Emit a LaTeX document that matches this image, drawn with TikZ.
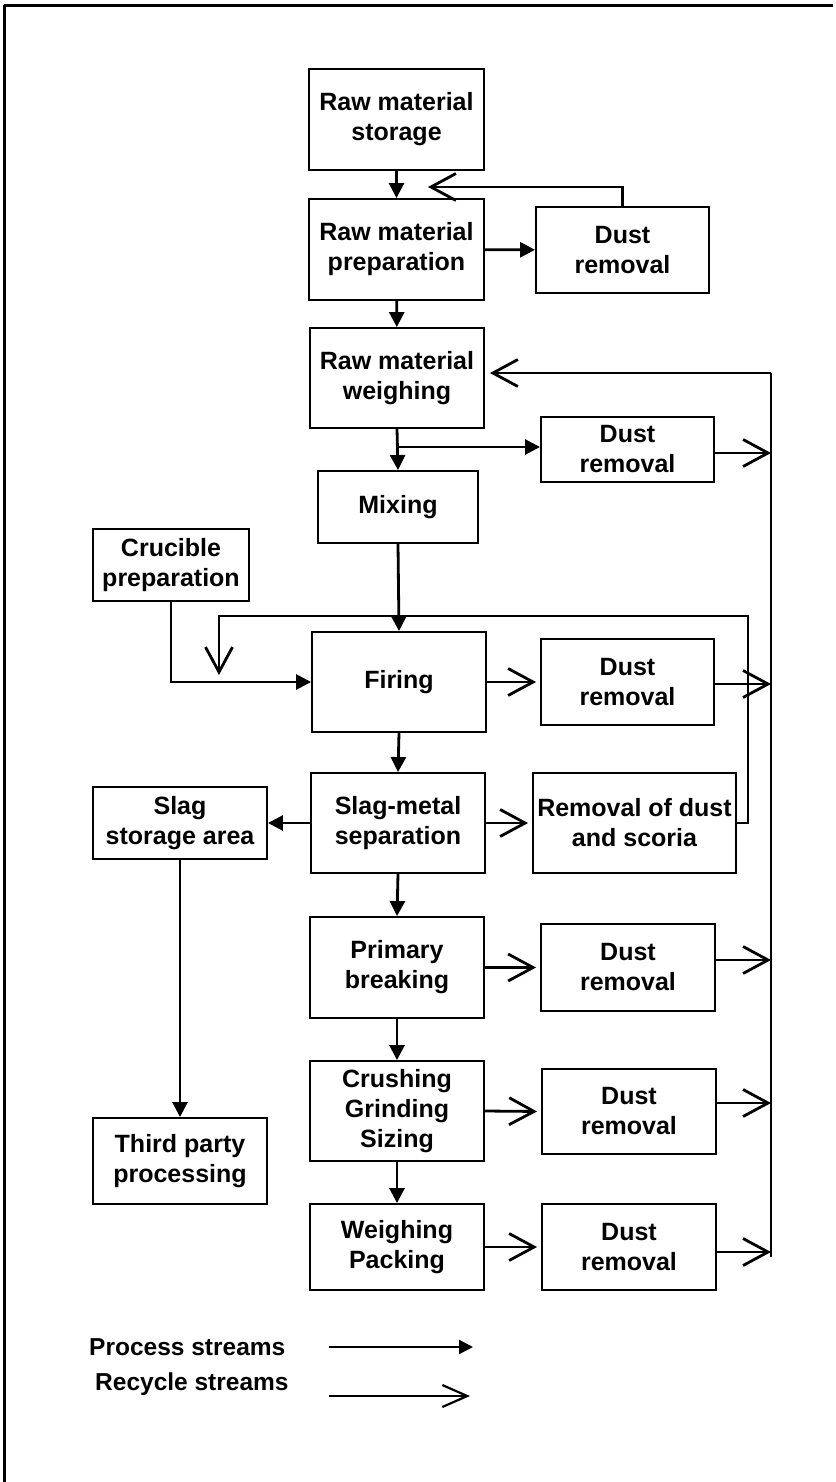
\documentclass[tikz,border=0pt]{standalone}
\usepackage{fontspec}
\setmainfont{Liberation Sans}
\usetikzlibrary{arrows.meta}
\begin{document}
\begin{tikzpicture}[x=1pt,y=-1pt,
  box/.style={draw, line width=1.9pt, inner sep=0pt, align=center,
    font=\fontsize{25}{30}\selectfont\bfseries},
  lbl/.style={inner sep=0pt, anchor=west, font=\fontsize{24.5}{29}\selectfont\bfseries},
  proc/.style={line width=2.8pt, -{Triangle[length=15pt,width=15pt]}},
  recy/.style={line width=2.8pt, -{Straight Barb[length=25pt,width=27pt]}},
  plain/.style={line width=2.8pt},
  legproc/.style={line width=2.2pt, -{Triangle[length=14pt,width=14pt]}},
  legrecy/.style={line width=2.2pt, -{Straight Barb[length=25pt,width=22pt]}}]
\useasboundingbox (0,0) rectangle (835,1482);
\draw[line width=2.2pt] (4.5,1482) -- (4.5,5.5);
\draw[line width=3pt] (3.5,5.5) -- (833,5.5);

% boxes
\node[box, minimum width=175pt, minimum height=101pt] (storage) at (396.5,119.5) {Raw material\\storage};
\node[box, minimum width=175pt, minimum height=101pt] (prep) at (396.5,249.5) {Raw material\\preparation};
\node[box, minimum width=173pt, minimum height=86pt] (dustA) at (622.5,250) {Dust\\removal};
\node[box, minimum width=174pt, minimum height=100pt] (weigh) at (397,378) {Raw material\\weighing};
\node[box, minimum width=173pt, minimum height=65pt] (dustB) at (627.5,449.5) {Dust\\removal};
\node[box, minimum width=160pt, minimum height=72pt] (mixing) at (398,507) {Mixing};
\node[box, minimum width=156pt, minimum height=72pt] (crucible) at (171,565) {Crucible\\preparation};
\node[box, minimum width=174pt, minimum height=100pt] (firing) at (399,682) {Firing};
\node[box, minimum width=173pt, minimum height=86pt] (dustF) at (627.5,682) {Dust\\removal};
\node[box, minimum width=174pt, minimum height=100pt] (slagmetal) at (398,823) {Slag-metal\\separation};
\node[box, minimum width=174pt, minimum height=72pt] (slagst) at (180,823) {Slag\\storage area};
\node[box, minimum width=203pt, minimum height=100pt] (scoria) at (634.5,823) {Removal of dust\\and scoria};
\node[box, minimum width=174pt, minimum height=101pt] (primary) at (397,967.5) {Primary\\breaking};
\node[box, minimum width=174pt, minimum height=87pt] (dustP) at (628,967.5) {Dust\\removal};
\node[box, minimum width=174pt, minimum height=100pt] (crushing) at (397,1111) {Crushing\\Grinding\\Sizing};
\node[box, minimum width=174pt, minimum height=85pt] (dustC) at (629,1111.5) {Dust\\removal};
\node[box, minimum width=174pt, minimum height=86pt] (third) at (180,1161) {Third party\\processing};
\node[box, minimum width=174pt, minimum height=86pt] (pack) at (397,1247) {Weighing\\Packing};
\node[box, minimum width=174pt, minimum height=86pt] (dustE) at (629,1247) {Dust\\removal};

% helper coordinates
\coordinate (vtop) at (771,373);
\coordinate (vbot) at (771,1257);
\coordinate (br) at (397,447);
\coordinate (recA) at (428,187);
\coordinate (loopend) at (219,675);

% process streams
\draw[proc] (storage) -- (prep);
\draw[proc] (prep) -- (dustA);
\draw[proc] (prep) -- (weigh);
\draw[proc] (weigh.south) -- (mixing.north);
\draw[proc] (br) -- (br -| dustB.west);
\draw[proc] (mixing.south) -- (firing.north);
\draw[proc] (crucible.south) |- (firing.west);
\draw[proc] (firing.south) -- (slagmetal.north);
\draw[proc] (slagmetal.west) -- (slagst.east);
\draw[proc] (slagmetal.south) -- (primary.north);
\draw[proc] (slagst.south) -- (third.north);
\draw[proc] (primary.south) -- (crushing.north);
\draw[proc] (crushing.south) -- (pack.north);

% recycle streams
\draw[recy] (dustA.north) |- (recA);
\draw[plain] (vtop) -- (vbot);
\draw[recy, shorten >=5pt] (vtop) -- (vtop -| weigh.east);
\draw[recy] (dustB.east |- 0,453) -- (vtop |- 0,453);
\draw[recy, shorten >=4pt] (firing.east) -- (dustF.west);
\draw[recy] (dustF.east |- 0,684) -- (vtop |- 0,684);
\draw[recy, shorten >=4pt] (slagmetal.east) -- (scoria.west);
\draw[recy] (scoria.east) -- (748,823) -- (748,616) -- (219,616) -- (loopend);
\draw[recy, shorten >=4pt] (primary.east) -- (dustP.west);
\draw[recy] (dustP.east |- 0,960) -- (vtop |- 0,960);
\draw[recy, shorten >=4pt] (crushing.east) -- (dustC.west);
\draw[recy] (dustC.east |- 0,1103) -- (vtop |- 0,1103);
\draw[recy, shorten >=4pt] (pack.east) -- (dustE.west);
\draw[recy] (dustE.east |- 0,1252) -- (vtop |- 0,1252);

% legend
\node[lbl] (lp) at (89,1347) {Process streams};
\node[lbl] (lr) at (95,1384) {Recycle streams};
\coordinate (lpa) at (329,1347);
\coordinate (lpb) at (473,1347);
\coordinate (lra) at (329,1396);
\coordinate (lrb) at (470,1396);
\draw[legproc] (lpa) -- (lpb);
\draw[legrecy] (lra) -- (lrb);
\end{tikzpicture}
\end{document}
